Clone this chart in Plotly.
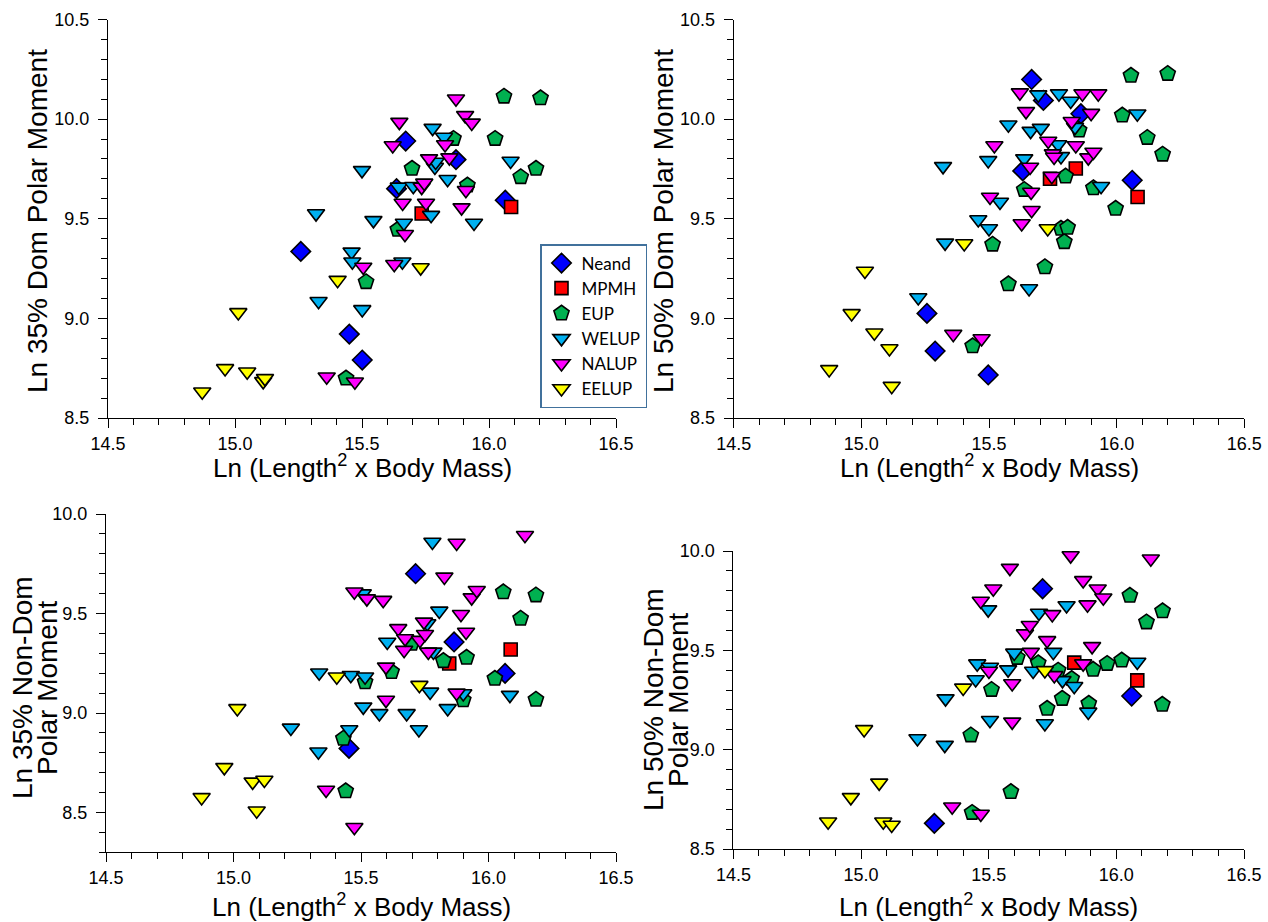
import plotly.graph_objects as go

# ---------------- DATA ----------------
groups = ["Neand", "MPMH", "EUP", "WELUP", "NALUP", "EELUP"]

# Panel 1: Ln 35% Dom Polar Moment
p1_neand_x = [15.259, 15.450, 15.501, 15.672, 15.870, 15.636, 16.064]
p1_neand_y = [9.336, 8.921, 8.791, 9.890, 9.797, 9.651, 9.593]
p1_mpmh_x = [15.735, 16.087]
p1_mpmh_y = [9.526, 9.559]
p1_eup_x = [15.437, 15.516, 15.641, 15.697, 15.860, 15.915, 16.024, 16.059, 16.203, 16.185, 16.125]
p1_eup_y = [8.699, 9.183, 9.446, 9.752, 9.902, 9.668, 9.902, 10.114, 10.106, 9.752, 9.710]
p1_welup_x = [15.319, 15.329, 15.459, 15.462, 15.500, 15.501, 15.545, 15.659, 15.665, 15.645, 15.702,
              15.772, 15.778, 15.787, 15.790, 15.823, 15.837, 15.941, 16.085]
p1_welup_y = [9.526, 9.086, 9.334, 9.284, 9.743, 9.045, 9.492, 9.284, 9.479, 9.660, 9.663,
              9.518, 9.955, 9.760, 9.785, 9.910, 9.698, 9.479, 9.790]
p1_nalup_x = [15.361, 15.472, 15.505, 15.621, 15.627, 15.647, 15.660, 15.669, 15.735, 15.745, 15.752,
              15.764, 15.827, 15.844, 15.870, 15.892, 15.906, 15.909, 15.932]
p1_nalup_y = [8.707, 8.682, 9.258, 9.868, 9.272, 9.985, 9.579, 9.422, 9.659, 9.680, 9.579,
              9.802, 9.873, 9.807, 10.102, 9.556, 10.019, 9.643, 9.981]
p1_eelup_x = [14.871, 14.961, 15.013, 15.048, 15.111, 15.118, 15.404, 15.731]
p1_eelup_y = [8.632, 8.749, 9.030, 8.732, 8.684, 8.699, 9.192, 9.255]

# Panel 2: Ln 50% Dom Polar Moment
p2_neand_x = [15.257, 15.289, 15.497, 15.632, 15.667, 15.713, 15.860, 16.061]
p2_neand_y = [9.025, 8.836, 8.716, 9.740, 10.199, 10.094, 10.027, 9.693]
p2_mpmh_x = [15.739, 15.840, 16.082]
p2_mpmh_y = [9.701, 9.752, 9.609]
p2_eup_x = [15.436, 15.514, 15.576, 15.638, 15.719, 15.782, 15.795, 15.800, 15.808, 15.853, 15.909,
            15.996, 16.022, 16.056, 16.120, 16.180, 16.200]
p2_eup_y = [8.861, 9.371, 9.172, 9.646, 9.258, 9.451, 9.384, 9.713, 9.456, 9.944, 9.654,
            9.551, 10.019, 10.219, 9.907, 9.823, 10.228]
p2_welup_x = [15.223, 15.320, 15.328, 15.458, 15.497, 15.500, 15.543, 15.576, 15.638, 15.657, 15.663,
              15.693, 15.703, 15.771, 15.774, 15.782, 15.820, 15.837, 15.939, 16.081]
p2_welup_y = [9.105, 9.763, 9.379, 9.496, 9.793, 9.451, 9.584, 9.972, 9.802, 9.150, 9.940,
              10.123, 9.955, 9.873, 10.128, 9.813, 10.091, 9.960, 9.663, 10.027]
p2_nalup_x = [15.360, 15.471, 15.504, 15.521, 15.621, 15.628, 15.645, 15.661, 15.665, 15.667, 15.732,
              15.746, 15.750, 15.755, 15.824, 15.840, 15.866, 15.889, 15.900, 15.909, 15.928]
p2_nalup_y = [8.921, 8.899, 9.609, 9.868, 10.133, 9.476, 10.039, 9.760, 9.634, 9.543, 9.890,
              9.713, 9.827, 9.810, 9.989, 9.868, 10.128, 9.807, 10.030, 9.835, 10.128]
p2_eelup_x = [14.874, 14.962, 15.014, 15.051, 15.110, 15.119, 15.403, 15.730]
p2_eelup_y = [8.744, 9.025, 9.238, 8.928, 8.849, 8.660, 9.376, 9.451]

# Panel 3: Ln 35% Non-Dom Polar Moment
p3_neand_x = [15.453, 15.714, 15.865, 16.065]
p3_neand_y = [8.822, 9.700, 9.357, 9.199]
p3_mpmh_x = [15.846, 16.087]
p3_mpmh_y = [9.249, 9.319]
p3_eup_x = [15.431, 15.440, 15.516, 15.620, 15.699, 15.823, 15.901, 15.914, 16.025, 16.058, 16.126,
            16.186, 16.186]
p3_eup_y = [8.872, 8.608, 9.156, 9.207, 9.349, 9.262, 9.065, 9.279, 9.173, 9.608, 9.475,
            9.592, 9.068]
p3_welup_x = [15.225, 15.333, 15.336, 15.454, 15.460, 15.507, 15.509, 15.516, 15.572, 15.603, 15.679,
              15.727, 15.760, 15.771, 15.780, 15.784, 15.807, 15.840, 15.901, 16.084]
p3_welup_y = [8.925, 8.805, 9.202, 8.917, 9.190, 9.600, 9.031, 9.182, 8.998, 9.357, 8.998,
              8.917, 9.450, 9.106, 9.859, 9.307, 9.513, 9.023, 9.098, 9.090]
p3_nalup_x = [15.363, 15.474, 15.474, 15.523, 15.587, 15.598, 15.598, 15.646, 15.669, 15.673, 15.731,
              15.747, 15.751, 15.764, 15.827, 15.875, 15.875, 15.892, 15.912, 15.934, 15.954, 16.143]
p3_nalup_y = [8.613, 8.426, 9.609, 9.575, 9.567, 9.232, 9.065, 9.425, 9.316, 9.374, 9.366,
              9.458, 9.396, 9.307, 9.684, 9.854, 9.101, 9.496, 9.407, 9.580, 9.617, 9.893]
p3_eelup_x = [14.875, 14.964, 15.015, 15.075, 15.091, 15.121, 15.405, 15.729]
p3_eelup_y = [8.576, 8.727, 9.023, 8.654, 8.509, 8.663, 9.182, 9.140]

# Panel 4: Ln 50% Non-Dom Polar Moment
p4_neand_x = [15.287, 15.711, 16.060]
p4_neand_y = [8.629, 9.810, 9.270]
p4_mpmh_x = [15.835, 16.082]
p4_mpmh_y = [9.438, 9.349]
p4_eup_x = [15.430, 15.435, 15.511, 15.587, 15.612, 15.694, 15.729, 15.772, 15.788, 15.825, 15.892,
            15.909, 15.964, 16.021, 16.053, 16.118, 16.180, 16.181]
p4_eup_y = [9.073, 8.683, 9.302, 8.788, 9.463, 9.436, 9.207, 9.399, 9.257, 9.357, 9.232,
            9.403, 9.433, 9.450, 9.776, 9.642, 9.227, 9.698]
p4_welup_x = [15.221, 15.328, 15.331, 15.449, 15.455, 15.498, 15.505, 15.505, 15.576, 15.600, 15.674,
              15.697, 15.720, 15.753, 15.789, 15.805, 15.835, 15.890, 16.082]
p4_welup_y = [9.056, 9.023, 9.257, 9.353, 9.433, 9.705, 9.416, 9.148, 9.403, 9.487, 9.396,
              9.688, 9.132, 9.491, 9.349, 9.726, 9.319, 9.190, 9.441]
p4_nalup_x = [15.357, 15.469, 15.469, 15.501, 15.518, 15.583, 15.592, 15.592, 15.642, 15.661, 15.665,
              15.729, 15.749, 15.757, 15.821, 15.870, 15.870, 15.887, 15.905, 15.927, 15.949, 16.135]
p4_nalup_y = [8.713, 8.676, 9.748, 9.396, 9.810, 9.914, 9.333, 9.140, 9.584, 9.626, 9.491,
              9.550, 9.681, 9.374, 9.977, 9.852, 9.433, 9.730, 9.520, 9.810, 9.765, 9.961]
p4_eelup_x = [14.871, 14.960, 15.012, 15.071, 15.087, 15.120, 15.400, 15.720]
p4_eelup_y = [8.637, 8.760, 9.102, 8.833, 8.637, 8.621, 9.311, 9.399]

x_tick_labels = ["14.5", "15.0", "15.5", "16.0", "16.5"]
x_tick_vals = [14.5, 15.0, 15.5, 16.0, 16.5]
y_tick_vals_top = [8.5, 9.0, 9.5, 10.0, 10.5]
y_tick_labels_top = ["8.5", "9.0", "9.5", "10.0", "10.5"]
y_tick_vals_bot = [8.5, 9.0, 9.5, 10.0]
y_tick_labels_bot = ["8.5", "9.0", "9.5", "10.0"]

x_title = "Ln (Length<sup>2</sup> x Body Mass)"
y_titles = [["Ln 35% Dom Polar Moment"], ["Ln 50% Dom Polar Moment"],
            ["Ln 35% Non-Dom", "Polar Moment"], ["Ln 50% Non-Dom", "Polar Moment"]]

# ---------------- STYLE ----------------
W, H = 1268, 922
colors = {"Neand": "#0000FF", "MPMH": "#FF0000", "EUP": "#00B050",
          "WELUP": "#00B0F0", "NALUP": "#FF00FF", "EELUP": "#FFFF00"}
symbols = {"Neand": "diamond", "MPMH": "square", "EUP": "pentagon",
           "WELUP": "triangle-down", "NALUP": "triangle-down", "EELUP": "triangle-down"}
sizes = {"Neand": 15, "MPMH": 13, "EUP": 16, "WELUP": 15, "NALUP": 15, "EELUP": 15}

panels = [
    dict(data=[(p1_neand_x, p1_neand_y), (p1_mpmh_x, p1_mpmh_y), (p1_eup_x, p1_eup_y),
               (p1_welup_x, p1_welup_y), (p1_nalup_x, p1_nalup_y), (p1_eelup_x, p1_eelup_y)],
         px=(108, 616), py=(19.5, 418), yr=[8.5, 10.5], yt=(y_tick_vals_top, y_tick_labels_top),
         ytitle_x=[38], ytitle_y=221, xtitle_y=466),
    dict(data=[(p2_neand_x, p2_neand_y), (p2_mpmh_x, p2_mpmh_y), (p2_eup_x, p2_eup_y),
               (p2_welup_x, p2_welup_y), (p2_nalup_x, p2_nalup_y), (p2_eelup_x, p2_eelup_y)],
         px=(733.7, 1244.3), py=(19.5, 418), yr=[8.5, 10.5], yt=(y_tick_vals_top, y_tick_labels_top),
         ytitle_x=[664], ytitle_y=221, xtitle_y=466),
    dict(data=[(p3_neand_x, p3_neand_y), (p3_mpmh_x, p3_mpmh_y), (p3_eup_x, p3_eup_y),
               (p3_welup_x, p3_welup_y), (p3_nalup_x, p3_nalup_y), (p3_eelup_x, p3_eelup_y)],
         px=(106, 616), py=(514, 852.3), yr=[8.3, 10.0], yt=(y_tick_vals_bot, y_tick_labels_bot),
         ytitle_x=[22, 47], ytitle_y=688, xtitle_y=905),
    dict(data=[(p4_neand_x, p4_neand_y), (p4_mpmh_x, p4_mpmh_y), (p4_eup_x, p4_eup_y),
               (p4_welup_x, p4_welup_y), (p4_nalup_x, p4_nalup_y), (p4_eelup_x, p4_eelup_y)],
         px=(733.4, 1244), py=(551, 849), yr=[8.5, 10.0], yt=(y_tick_vals_bot, y_tick_labels_bot),
         ytitle_x=[653, 678], ytitle_y=700, xtitle_y=905),
]

tick_font = dict(family="Liberation Sans, Arial, sans-serif", size=18, color="black")
fig = go.Figure()
annotations = []
layout_axes = {}

for i, p in enumerate(panels):
    n = i + 1
    xa = "x" if n == 1 else f"x{n}"
    ya = "y" if n == 1 else f"y{n}"
    for g, (xs, ys) in zip(groups, p["data"]):
        fig.add_trace(go.Scatter(
            x=xs, y=ys, mode="markers", name=g, xaxis=xa, yaxis=ya,
            showlegend=(n == 1), legendgroup=g,
            marker=dict(symbol=symbols[g], size=sizes[g], color=colors[g],
                        line=dict(color="black", width=1.6)),
            cliponaxis=False,
        ))
    x0, x1 = p["px"]
    y0, y1 = p["py"]
    xdom = [x0 / W, x1 / W]
    ydom = [1 - y1 / H, 1 - y0 / H]
    common = dict(showline=True, linecolor="black", linewidth=1, showgrid=False, zeroline=False,
                  ticks="outside", tickcolor="black", tickwidth=1, tickfont=tick_font,
                  automargin=False)
    layout_axes["xaxis" if n == 1 else f"xaxis{n}"] = dict(
        domain=xdom, range=[14.5, 16.5], anchor=ya, tickmode="array",
        tickvals=x_tick_vals, ticktext=x_tick_labels, ticklen=9,
        minor=dict(dtick=0.1, tick0=14.5, ticks="outside", ticklen=6, tickcolor="black", showgrid=False),
        **common)
    layout_axes["yaxis" if n == 1 else f"yaxis{n}"] = dict(
        domain=ydom, range=p["yr"], anchor=xa, tickmode="array",
        tickvals=p["yt"][0], ticktext=p["yt"][1], ticklen=9, ticklabelstandoff=5,
        minor=dict(dtick=0.1, tick0=8.3, ticks="outside", ticklen=6, tickcolor="black", showgrid=False),
        **common)
    # x title
    annotations.append(dict(text=x_title, x=(x0 + x1) / 2 / W, y=1 - p["xtitle_y"] / H,
                            xref="paper", yref="paper", showarrow=False,
                            xanchor="center", yanchor="middle",
                            font=dict(family="Liberation Sans, Arial, sans-serif", size=26, color="black")))
    for line, tx in zip(y_titles[i], p["ytitle_x"]):
        annotations.append(dict(text=line, x=tx / W, y=1 - p["ytitle_y"] / H,
                                xref="paper", yref="paper", showarrow=False, textangle=-90,
                                xanchor="center", yanchor="middle",
                                font=dict(family="Liberation Sans, Arial, sans-serif", size=28, color="black")))

fig.update_layout(
    width=W, height=H, margin=dict(l=0, r=0, t=0, b=0, pad=0),
    paper_bgcolor="white", plot_bgcolor="white",
    annotations=annotations,
    legend=dict(x=540 / W, y=1 - 244 / H, xanchor="left", yanchor="top",
                bgcolor="white", bordercolor="#41719C", borderwidth=1.5,
                font=dict(family="Lato, Open Sans, sans-serif", size=17, color="black"),
                traceorder="grouped", tracegroupgap=0, itemwidth=30),
    **layout_axes,
)

fig.write_html("out.html", config={"displayModeBar": False},
               post_script="document.body.style.margin='0';document.body.style.overflow='hidden';")
